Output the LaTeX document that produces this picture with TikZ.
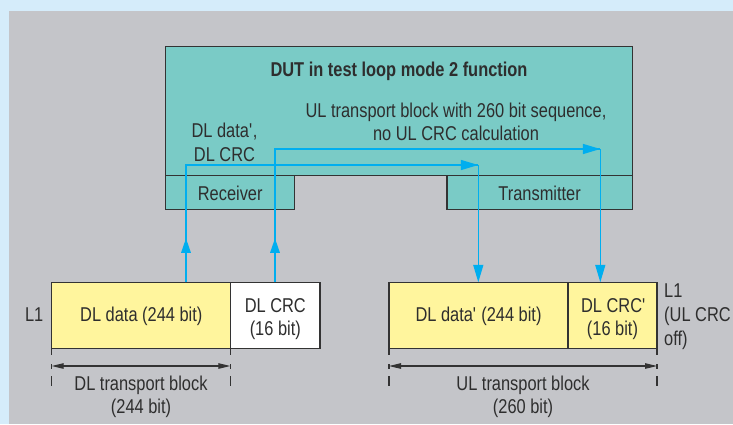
\documentclass[tikz,border=0pt]{standalone}
\usepackage{fontspec}
\setmainfont{Liberation Sans}[FakeStretch=0.82]
\usetikzlibrary{arrows.meta}

\definecolor{framebg}{RGB}{213,236,250}
\definecolor{panelbg}{RGB}{196,197,201}
\definecolor{dutfill}{RGB}{122,203,198}
\definecolor{datafill}{RGB}{255,245,157}
\definecolor{sigblue}{RGB}{0,174,239}
\definecolor{ink}{RGB}{46,46,46}
\definecolor{edge}{RGB}{51,51,51}

\newcommand{\pr}{\textquotesingle}

\begin{document}
\begin{tikzpicture}[x=1pt,y=-1pt,
  box/.style={draw=edge, line width=1.2pt, inner sep=0pt, outer sep=0pt},
  txt/.style={text=ink, font=\fontsize{20}{23}\selectfont, inner sep=0pt, anchor=base},
  sig/.style={draw=sigblue, line width=1.5pt},
  fwd/.style={-{Triangle[length=17.5pt,width=10pt]}},
  upmark/.style={-{Triangle[length=14.5pt,width=9.5pt]}},
  dimline/.style={draw=edge, line width=1.1pt,
    {Triangle[length=12pt,width=5.5pt]}-{Triangle[length=12pt,width=5.5pt]}},
  extline/.style={draw=edge, line width=1.1pt,
    dash pattern=on 7pt off 9pt on 5pt off 7pt on 10pt off 40pt}]

% frame and panel
\useasboundingbox (0,0) rectangle (733,424);
\fill[framebg] (0,0) rectangle (733,424);
\fill[panelbg] (9,11) rectangle (733,424);

% device under test with its receiver and transmitter tabs
\node[box, fill=dutfill, minimum width=466.6pt, minimum height=129pt] (dut) at (399,111.2) {};
\node[box, fill=dutfill, minimum width=129pt, minimum height=33.6pt] (rx) at (230.2,192.5) {};
\node[box, fill=dutfill, minimum width=185.3pt, minimum height=33.6pt] (tx) at (539.65,192.5) {};

\node[txt, font=\fontsize{20}{23}\selectfont\bfseries] (title) at (399,76.3) {DUT in test loop mode 2 function};
\node[txt] (ulnote1) at (456,117.3) {UL transport block with 260 bit sequence,};
\node[txt] (ulnote2) at (456,140) {no UL CRC calculation};
\node[txt] (dlnote1) at (224.5,137.7) {DL data\pr,};
\node[txt] (dlnote2) at (224.5,161.3) {DL CRC};
\node[txt] (rxlabel) at (230.2,200) {Receiver};
\node[txt] (txlabel) at (539.6,200) {Transmitter};

% downlink transport block
\node[box, fill=datafill, minimum width=178.6pt, minimum height=66pt] (dldata) at (141,315.3) {};
\node[box, fill=white, minimum width=89.7pt, minimum height=66pt] (dlcrc) at (275.15,315.3) {};
\node[txt] at (141.3,321.7) {DL data (244 bit)};
\node[txt] at (275.3,312) {DL CRC};
\node[txt] at (275.3,335) {(16 bit)};
\node[txt, anchor=base east] (l1left) at (43.5,321.7) {L1};

% uplink transport block
\node[box, fill=datafill, minimum width=179pt, minimum height=66pt] (uldata) at (478.5,315.3) {};
\node[box, fill=datafill, minimum width=89pt, minimum height=66pt] (ulcrc) at (612.5,315.3) {};
\node[txt] at (478.5,321.7) {DL data\pr\ (244 bit)};
\node[txt] at (613.5,312) {DL CRC\pr};
\node[txt] at (612.5,335) {(16 bit)};
\node[txt, anchor=base west] (l1right) at (664,297.3) {L1};
\node[txt, anchor=base west] at (664,321.7) {(UL CRC};
\node[txt, anchor=base west] at (664,345) {off)};

% block length dimensions
\coordinate (dlend) at (dldata.south west |- 0,386.5);
\draw[extline] (dldata.south west) -- (dldata.south west |- dlend);
\draw[extline] (dldata.south east) -- (dldata.south east |- dlend);
\draw[dimline] (dldata.south west |- 0,366) -- (dldata.south east |- 0,366);
\node[txt] at (141,390) {DL transport block};
\node[txt] at (141,413.3) {(244 bit)};

\draw[extline] (uldata.south west) -- (uldata.south west |- dlend);
\draw[extline] (ulcrc.south east) -- (ulcrc.south east |- dlend);
\draw[dimline] (uldata.south west |- 0,366) -- (ulcrc.south east |- 0,366);
\node[txt] at (523,390) {UL transport block};
\node[txt] at (523,413.3) {(260 bit)};

% loop-back signal paths
\coordinate (a1) at (186,165);
\coordinate (a2) at (478.3,165);
\coordinate (b1) at (275,149);
\coordinate (b2) at (600.3,149);
\coordinate (aup) at (186,238.3);
\coordinate (bup) at (275,238.3);

\draw[sig] (a1 |- dldata.north) -- (a1) -- (a2);
\draw[sig, fwd] (a1) -- (a2);
\draw[sig, fwd] (a2) -- (a2 |- uldata.north);
\draw[sig, upmark] (a1 |- dldata.north) -- (aup);

\draw[sig] (b1 |- dlcrc.north) -- (b1) -- (b2);
\draw[sig, fwd] (b1) -- (b2);
\draw[sig, fwd] (b2) -- (b2 |- ulcrc.north);
\draw[sig, upmark] (b1 |- dlcrc.north) -- (bup);
\end{tikzpicture}
\end{document}
